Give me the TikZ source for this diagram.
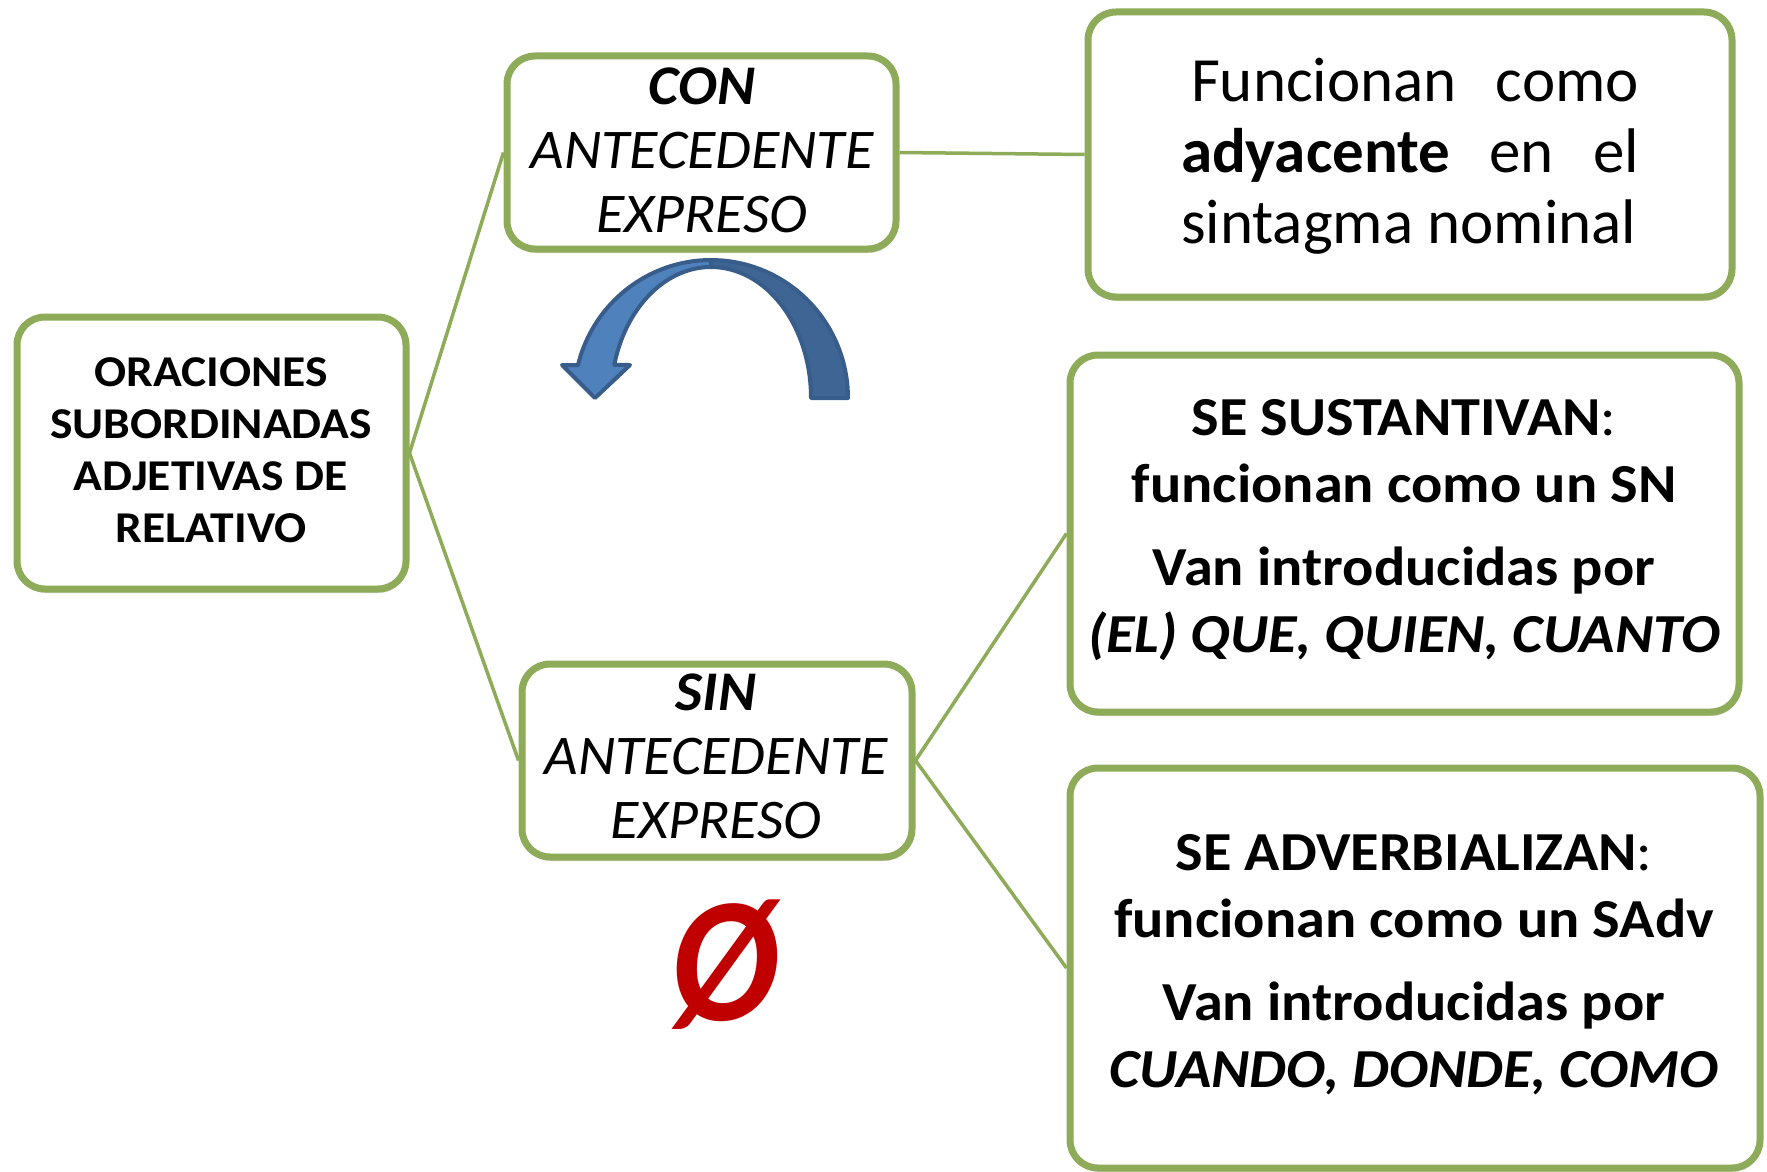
\documentclass[tikz,border=0pt]{standalone}
\usepackage{fontspec}
\setmainfont{Carlito}
\newfontfamily\leftfont{Carlito}[FakeStretch=1.08]
\newfontfamily\midfont{Carlito}[FakeStretch=1.035]
\newfontfamily\rightfont{Carlito}[FakeStretch=1.06]
\usetikzlibrary{shadows,backgrounds}
\definecolor{boxgreen}{HTML}{8DAB58}
\definecolor{arrowlight}{HTML}{4F81BD}
\definecolor{arrowdark}{HTML}{3E6594}
\definecolor{arrowline}{HTML}{385D8A}
\definecolor{nullred}{HTML}{C00000}
\tikzset{
  greenbox/.style={draw=boxgreen, line width=7pt, fill=white, rounded corners=28pt,
    inner sep=0pt, drop shadow={shadow xshift=1pt, shadow yshift=-4pt, opacity=0.3}},
  link/.style={draw=boxgreen, line width=3.5pt},
  boxtext/.style={align=center, inner sep=0pt, text=black},
  bluearrow/.style={draw=arrowline, line width=4pt, line join=round},
}
\begin{document}
\begin{tikzpicture}[x=1pt, y=-1pt]
\useasboundingbox (0,0) rectangle (1767,1172);

% boxes
\node[greenbox, minimum width=389pt, minimum height=272pt] (orac) at (211.5,453) {};
\node[greenbox, minimum width=389pt, minimum height=193pt] (con) at (701.5,152.5) {};
\node[greenbox, minimum width=390pt, minimum height=193pt] (sin) at (717,760.5) {};
\node[greenbox, minimum width=644pt, minimum height=285pt] (adya) at (1410,154.5) {};
\node[greenbox, minimum width=669pt, minimum height=357pt] (sust) at (1404.5,533.5) {};
\node[greenbox, minimum width=690pt, minimum height=400pt] (adv) at (1415,968) {};

% connectors
\begin{scope}[on background layer]
\draw[link] (orac.east) -- (con.west);
\draw[link] (orac.east) -- (sin.west);
\draw[link] (con.east) -- (adya.west);
\draw[link] (sin.east) -- (sust.west);
\draw[link] (sin.east) -- (adv.west);
\end{scope}

% texts
\node[boxtext, font=\leftfont\fontsize{44}{52}\selectfont\bfseries] (oract) at (211,450.5)
  {ORACIONES\\SUBORDINADAS\\ADJETIVAS DE\\RELATIVO};
\node[boxtext, font=\midfont\fontsize{56}{64}\selectfont\itshape] (cont) at (702,150)
  {\textbf{CON}\\ANTECEDENTE\\EXPRESO};
\node[boxtext, font=\midfont\fontsize{56}{64}\selectfont\itshape] (sint) at (716,756)
  {\textbf{SIN}\\ANTECEDENTE\\EXPRESO};
\node[inner sep=0pt, align=left, font=\fontsize{63}{71}\selectfont] (adyat) at (1410,156)
  {\hspace*{10pt}\makebox[448pt][s]{Funcionan como}\\\makebox[458pt][s]{\textbf{adyacente} en el}\\sintagma nominal};
\node[boxtext, font=\rightfont\fontsize{55}{67}\selectfont\bfseries] (sustt) at (1404,530)
  {SE SUSTANTIVAN\textmd{:}\\funcionan como un SN\\[16pt]Van introducidas por\\\textit{(EL) QUE, QUIEN, CUANTO}};
\node[boxtext, font=\rightfont\fontsize{55}{67}\selectfont\bfseries] (advt) at (1414,965)
  {SE ADVERBIALIZAN\textmd{:}\\funcionan como un SAdv\\[16pt]Van introducidas por\\\textit{CUANDO, DONDE, COMO}};

% curved arrow
\filldraw[bluearrow, fill=arrowdark]
  plot[domain=90:0, samples=40] ({711+137*cos(\x)},{398-138*sin(\x)})
  -- (811,398)
  -- plot[domain=0:90, samples=40] ({711+100*cos(\x)},{398-131*sin(\x)})
  -- cycle;
\filldraw[bluearrow, fill=arrowlight]
  plot[domain=90:166.2, samples=40] ({711+137*cos(\x)},{398-138*sin(\x)})
  -- (562,365) -- (595,398) -- (630,365)
  -- plot[domain=165.4:90, samples=40] ({711+100*cos(\x)},{398-131*sin(\x)})
  -- cycle;

% empty set symbol
\node[inner sep=0pt, text=nullred, font=\fontsize{155}{160}\selectfont\bfseries\itshape] (nullset) at (725,965) {\scalebox{1.03}[1.15]{Ø}};
\end{tikzpicture}
\end{document}
